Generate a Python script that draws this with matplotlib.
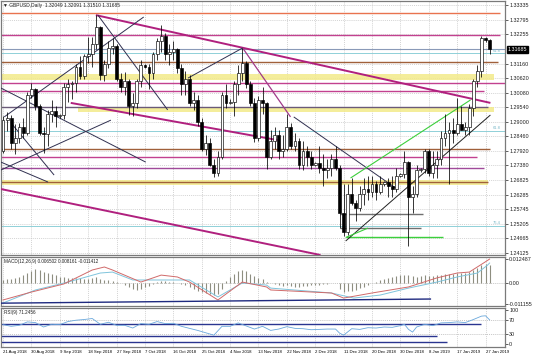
import matplotlib
matplotlib.use('Agg')
import matplotlib.pyplot as plt
import matplotlib.transforms as mtransforms

plt.rcParams['font.family'] = ['Liberation Sans', 'DejaVu Sans']

# ---- daily GBPUSD candles, one entry per bar ----
opens = [1.2790, 1.2905, 1.2915, 1.2820, 1.2840, 1.2880, 1.2860, 1.3000, 1.3020, 1.2960,
         1.2860, 1.2855, 1.2930, 1.2940, 1.2920, 1.2925, 1.3030, 1.3040, 1.3045, 1.3105,
         1.3070, 1.3145, 1.3150, 1.3190, 1.3250, 1.3075, 1.3115, 1.3175, 1.3180, 1.3060,
         1.3030, 1.3050, 1.2960, 1.2970, 1.3050, 1.3110, 1.3105, 1.3080, 1.3150, 1.3200,
         1.3220, 1.3150, 1.3160, 1.3170, 1.3100, 1.3040, 1.3060, 1.2970, 1.2980, 1.2900,
         1.2800, 1.2820, 1.2740, 1.2710, 1.2770, 1.3000, 1.2970, 1.2975, 1.3040, 1.3080,
         1.3120, 1.3040, 1.2970, 1.2840, 1.2980, 1.2970, 1.2770, 1.2830, 1.2850, 1.2790,
         1.2800, 1.2880, 1.2810, 1.2830, 1.2740, 1.2790, 1.2770, 1.2740, 1.2745, 1.2730,
         1.2720, 1.2730, 1.2760, 1.2730, 1.2560, 1.2490, 1.2630, 1.2600, 1.2580, 1.2630,
         1.2650, 1.2640, 1.2670, 1.2640, 1.2670, 1.2675, 1.2660, 1.2650, 1.2700, 1.2705,
         1.2750, 1.2620, 1.2630, 1.2720, 1.2725, 1.2790, 1.2710, 1.2740, 1.2760, 1.2840,
         1.2860, 1.2870, 1.2860, 1.2890, 1.2870, 1.2880, 1.2950, 1.3050, 1.3090, 1.3210,
         1.32049]
highs = [1.2920, 1.2935, 1.2925, 1.2890, 1.2895, 1.2915, 1.3010, 1.3045, 1.3025, 1.2965,
         1.2880, 1.2945, 1.2980, 1.2960, 1.2930, 1.3045, 1.3060, 1.3050, 1.3115, 1.3145,
         1.3150, 1.3215, 1.3215, 1.3298, 1.3255, 1.3130, 1.3200, 1.3210, 1.3190, 1.3080,
         1.3085, 1.3060, 1.3005, 1.3060, 1.3130, 1.3115, 1.3115, 1.3160, 1.3210, 1.3258,
         1.3230, 1.3190, 1.3200, 1.3175, 1.3115, 1.3090, 1.3075, 1.3010, 1.3000, 1.2915,
         1.2850, 1.2840, 1.2760, 1.2790, 1.3010, 1.3040, 1.2985, 1.3050, 1.3110, 1.3175,
         1.3125, 1.3050, 1.2990, 1.2995, 1.3030, 1.2975, 1.2870, 1.2880, 1.2870, 1.2850,
         1.2930, 1.2895, 1.2860, 1.2840, 1.2830, 1.2810, 1.2790, 1.2750, 1.2810, 1.2780,
         1.2760, 1.2780, 1.2810, 1.2740, 1.2670, 1.2670, 1.2690, 1.2610, 1.2660, 1.2690,
         1.2700, 1.2700, 1.2680, 1.2700, 1.2680, 1.2690, 1.2700, 1.2730, 1.2710, 1.2790,
         1.2755, 1.2660, 1.2740, 1.2730, 1.2800, 1.2800, 1.2790, 1.2790, 1.2865, 1.2930,
         1.2900, 1.2915, 1.2990, 1.2960, 1.2900, 1.2965, 1.3060, 1.3110, 1.3218, 1.3215,
         1.32091]
lows = [1.2785, 1.2865, 1.2800, 1.2780, 1.2820, 1.2840, 1.2850, 1.2990, 1.2945, 1.2850,
        1.2785, 1.2810, 1.2900, 1.2880, 1.2915, 1.2910, 1.2975, 1.2985, 1.3010, 1.3060,
        1.3060, 1.3120, 1.3105, 1.3170, 1.3055, 1.3050, 1.3100, 1.3150, 1.3050, 1.3010,
        1.3000, 1.2925, 1.2920, 1.2950, 1.3030, 1.3100, 1.3020, 1.3060, 1.3130, 1.3160,
        1.3130, 1.3110, 1.3130, 1.3080, 1.3000, 1.3000, 1.2960, 1.2945, 1.2885, 1.2790,
        1.2775, 1.2735, 1.2696, 1.2700, 1.2760, 1.2950, 1.2965, 1.2920, 1.3000, 1.3050,
        1.3025, 1.2960, 1.2825, 1.2830, 1.2930, 1.2725, 1.2760, 1.2800, 1.2760, 1.2770,
        1.2790, 1.2800, 1.2790, 1.2725, 1.2720, 1.2735, 1.2725, 1.2735, 1.2710, 1.2660,
        1.2690, 1.2700, 1.2720, 1.2505, 1.2477, 1.2480, 1.2590, 1.2530, 1.2570, 1.2590,
        1.2610, 1.2620, 1.2610, 1.2630, 1.2660, 1.2620, 1.2620, 1.2640, 1.2695, 1.2690,
        1.2440, 1.2560, 1.2620, 1.2715, 1.2710, 1.2700, 1.2690, 1.2690, 1.2740, 1.2810,
        1.2670, 1.2820, 1.2850, 1.2870, 1.2850, 1.2850, 1.2920, 1.3030, 1.3065, 1.3195,
        1.31510]
closes = [1.2905, 1.2915, 1.2820, 1.2840, 1.2880, 1.2860, 1.3000, 1.3020, 1.2960, 1.2860,
          1.2855, 1.2930, 1.2940, 1.2920, 1.2925, 1.3030, 1.3040, 1.3045, 1.3105, 1.3070,
          1.3145, 1.3150, 1.3190, 1.3250, 1.3075, 1.3115, 1.3175, 1.3180, 1.3060, 1.3030,
          1.3050, 1.2960, 1.2970, 1.3050, 1.3110, 1.3105, 1.3080, 1.3150, 1.3200, 1.3220,
          1.3150, 1.3160, 1.3170, 1.3100, 1.3040, 1.3060, 1.2970, 1.2980, 1.2900, 1.2800,
          1.2820, 1.2740, 1.2710, 1.2770, 1.3000, 1.2970, 1.2975, 1.3040, 1.3080, 1.3120,
          1.3040, 1.2970, 1.2840, 1.2980, 1.2970, 1.2770, 1.2830, 1.2850, 1.2790, 1.2800,
          1.2880, 1.2810, 1.2830, 1.2740, 1.2790, 1.2770, 1.2740, 1.2745, 1.2730, 1.2720,
          1.2730, 1.2760, 1.2730, 1.2560, 1.2490, 1.2630, 1.2600, 1.2580, 1.2630, 1.2650,
          1.2640, 1.2670, 1.2640, 1.2670, 1.2675, 1.2660, 1.2650, 1.2700, 1.2705, 1.2750,
          1.2620, 1.2630, 1.2720, 1.2725, 1.2790, 1.2710, 1.2740, 1.2760, 1.2840, 1.2860,
          1.2870, 1.2860, 1.2890, 1.2870, 1.2880, 1.2950, 1.3050, 1.3090, 1.3210, 1.3205,
          1.31685]

date_labels = ['21 Aug 2018', '30 Aug 2018', '9 Sep 2018', '18 Sep 2018', '27 Sep 2018',
               '7 Oct 2018', '16 Oct 2018', '25 Oct 2018', '4 Nov 2018', '13 Nov 2018',
               '22 Nov 2018', '2 Dec 2018', '11 Dec 2018', '20 Dec 2018', '30 Dec 2018',
               '8 Jan 2019', '17 Jan 2019', '27 Jan 2019']
price_ticks = [1.33335, 1.32795, 1.32255, 1.31160, 1.30620, 1.30080, 1.29540, 1.29000,
               1.28460, 1.27920, 1.27380, 1.26825, 1.26285, 1.25745, 1.25205, 1.24665, 1.24125]
last_price = 1.31685

# horizontal levels: (price, first bar, last bar, colour)
h_levels = [
    (1.3304, -1, 122.5, '#e9734f'),
    (1.3222, -1, 122.5, '#c2418f'),
    (1.3122, -1, 122.0, '#a0603a'),
    (1.3044, -1, 125.0, '#c2418f'),
    (1.3014, -1, 118.5, '#c2418f'),
    (1.2955, -1, 119.5, '#6a5a78'),
    (1.2799, -1, 120.0, '#a0603a'),
    (1.2769, -1, 117.0, '#c2418f'),
    (1.2728, -1, 118.5, '#a04a9a'),
    (1.2676, -1, 119.5, '#a0603a'),
    (1.2557, 83.0, 103.5, '#707070'),
    (1.2505, 83.0, 103.0, '#707070'),
    (1.24719, 84.5, 108.5, '#3ccf3c'),
]
fib_levels = [(1.3155, '61.8'), (1.2866, '61.8'), (1.2513, '76.4')]
# yellow zones: (low, high, first bar, last bar)
zones = [(1.3055, 1.3077, -1, 121.0), (1.2937, 1.2953, 18.5, 121.0), (1.2665, 1.2684, -1, 119.5)]

# trend lines: (bar0, price0, bar1, price1, colour, width)
trend_lines = [
    (22.9, 1.3296, 120.2, 1.2970, '#b0207e', 1.4),
    (16.7, 1.2970, 67.7, 1.2832, '#b0207e', 1.4),
    (-0.5, 1.2650, 78.3, 1.2405, '#b0207e', 1.4),
    (84.5, 1.2457, 120.2, 1.2925, '#202020', 0.7),
    (0.3, 1.2918, 34.7, 1.3289, '#303050', 0.7),
    (23.4, 1.3296, 40.6, 1.2944, '#303050', 0.7),
    (-0.5, 1.3025, 35.2, 1.2750, '#303050', 0.7),
    (2.0, 1.2895, 12.6, 1.2702, '#303050', 0.7),
    (-0.5, 1.2750, 11.1, 1.2676, '#303050', 0.7),
    (-0.5, 1.2721, 26.6, 1.2906, '#303050', 0.7),
    (45.6, 1.3062, 59.1, 1.3174, '#303050', 0.7),
    (59.1, 1.3174, 70.9, 1.2918, '#a03a8a', 0.9),
    (71.7, 1.2918, 96.8, 1.2654, '#303050', 0.7),
    (85.7, 1.2691, 115.3, 1.2981, '#3ccf3c', 0.8),
    (84.5, 1.2470, 90.0, 1.2505, '#3ccf3c', 0.8),
]

# MACD histogram (x 0.001), one per bar
macd_hist = [1.5, 2.0, 2.0, 2.5, 3.0, 4.0, 5.5, 6.5, 7.5, 7.0,
             6.0, 5.5, 5.0, 4.0, 3.0, 3.0, 2.5, 2.5, 2.5, 2.5,
             2.0, 2.0, 2.5, 3.0, 2.0, 1.5, 1.5, 1.0, 0.5, 0.0,
             -1.0, -2.0, -3.0, -3.5, -3.0, -2.0, -1.5, -0.5, 0.5, 1.0,
             1.0, 0.5, 0.5, 0.0, -0.5, -1.0, -2.0, -3.0, -4.0, -5.0,
             -5.5, -6.0, -6.5, -6.0, -3.0, 1.0, 3.0, 5.0, 6.5, 7.0,
             6.5, 5.0, 3.5, 2.5, 2.0, 0.5, 0.0, -0.5, -1.0, -1.5,
             -1.0, -1.5, -2.0, -2.0, -1.5, -1.5, -1.0, -1.0, -1.0, -0.5,
             -0.5, 0.0, 0.0, -3.0, -5.0, -4.5, -4.0, -3.5, -2.5, -2.0,
             -1.0, 0.0, 0.5, 1.5, 2.0, 2.5, 3.0, 3.5, 4.0, 4.5,
             4.0, 3.5, 3.0, 3.5, 4.0, 3.5, 3.5, 4.0, 4.5, 5.0,
             5.0, 5.0, 5.5, 5.5, 5.5, 6.0, 7.0, 8.0, 9.5, 10.0, 9.5]
red_idx = [0, 7, 15, 22, 25, 27, 34, 39, 43, 46, 53, 59, 65, 66, 81, 84, 91, 100, 107, 112, 115, 118.5, 120]
red_val = [-9.0, -4.8, -0.5, 6.9, 8.5, 6.9, 0.5, 4.2, 3.2, 0.5, -9.0, 0.5, -2.1, -3.7, -5.3, -8.0,
           -5.3, -2.1, 2.7, 5.3, 5.8, 10.6, 12.7]
blue_idx = [0, 8, 16, 24, 27, 32, 39, 46, 53, 59, 65, 66, 81, 86.5, 93, 100, 107, 112, 117, 119.5, 120]
blue_val = [-10.6, -3.7, 0.5, 5.3, 5.8, 1.6, 1.6, 1.6, -7.4, 0.0, -1.1, -2.7, -5.3, -8.0, -6.4,
            -2.7, 0.5, 3.2, 5.3, 9.5, 10.6]
macd_trend = (-0.5, -10.7, 105.4, -8.5)

rsi_idx = [0, 2, 4, 6, 8, 10, 12, 14, 16, 18, 20, 22, 24, 26, 28, 30, 32, 34, 36, 38, 40, 42, 44,
           46, 48, 50, 52, 54, 56, 58, 60, 62, 64, 66, 68, 70, 72, 74, 76, 78, 80, 82, 83, 84, 86,
           88, 90, 92, 94, 96, 98, 99, 100, 101, 102, 104, 106, 108, 110, 112, 114, 116, 118, 119, 120]
rsi_val = [57, 52, 55, 65, 63, 50, 58, 57, 66, 70, 72, 75, 58, 64, 55, 55, 47, 60, 58, 66, 60, 61, 52,
           46, 40, 33, 26, 52, 52, 62, 53, 44, 52, 40, 44, 51, 46, 45, 42, 43, 44, 44, 32, 26, 45,
           43, 48, 47, 50, 49, 54, 58, 43, 35, 50, 58, 54, 62, 63, 65, 63, 72, 82, 83, 71]
rsi_levels = [(59, 118.0), (24, 107.0), (6, 109.5)]

W, H = 536, 358
fig = plt.figure(figsize=(W / 100, H / 100), dpi=100)
fig.patch.set_facecolor('white')


def px_axes(x0, y0, x1, y1):
    return fig.add_axes([x0 / W, 1 - y1 / H, (x1 - x0) / W, (y1 - y0) / H])


ax = px_axes(1, 1, 505, 255)
ax_m = px_axes(1, 257, 505, 306)
ax_r = px_axes(1, 308, 505, 347)

n = len(closes)
xmin, xmax = -0.5, 123.8
label_pos = [7 * k for k in range(len(date_labels))]
grid_kw = dict(color='#c4c4c4', lw=0.5, ls=(0, (1.5, 1.5)))
fs = 3.9

for a in (ax, ax_m, ax_r):
    a.set_xlim(xmin, xmax)
    a.set_xticks(label_pos)
    for s in a.spines.values():
        s.set_color('#7a7a7a')
        s.set_linewidth(0.9)
    a.yaxis.tick_right()
    a.tick_params(axis='y', labelsize=fs, length=2, width=0.5, pad=1, colors='#202020')
    a.tick_params(axis='x', length=0)
    for p in label_pos:
        a.axvline(p, zorder=0, **grid_kw)

# ---- main price panel ----
ax.set_ylim(1.24051, 1.33484)
ax.set_yticks(price_ticks)
ax.set_yticklabels([f'{p:.5f}' for p in price_ticks])
ax.set_xticklabels([])
for p in price_ticks:
    ax.axhline(p, zorder=0, **grid_kw)

for lo, hi, i0, i1 in zones:
    ax.fill_between([i0, i1], [lo, lo], [hi, hi], color='#f3ea8a', alpha=0.85, lw=0, zorder=1)
for p, i0, i1, c in h_levels:
    ax.hlines(p, i0, i1, color=c, lw=1.0, zorder=2)
for p, lab in fib_levels:
    ax.hlines(p, xmin, xmax, color='#8fd0d8', lw=0.7, zorder=2)
    ax.text(121.8, p + 0.0002, lab, color='#7ab8c8', fontsize=3.0, va='bottom', ha='center')
for i0, p0, i1, p1, c, w in trend_lines:
    ax.plot([i0, i1], [p0, p1], color=c, lw=w, zorder=3, solid_capstyle='butt')

# bid line
ax.axhline(last_price, color='#8a9ab8', lw=0.8, zorder=2)

for i in range(n):
    o, h, l, c = opens[i], highs[i], lows[i], closes[i]
    ax.vlines(i, l, h, color='black', lw=0.55, zorder=4)
    bot, top = min(o, c), max(o, c)
    if top - bot < 0.00008:
        ax.hlines(o, i - 0.35, i + 0.35, color='black', lw=0.6, zorder=5)
        continue
    fc = 'white' if c >= o else 'black'
    ax.bar(i, top - bot, bottom=bot, width=0.7, facecolor=fc, edgecolor='black',
           linewidth=0.45, zorder=5)

trans = mtransforms.blended_transform_factory(ax.transAxes, ax.transData)
ax.text(1.006, last_price, f'{last_price:.5f}', transform=trans, fontsize=fs, color='white',
        va='center', ha='left', bbox=dict(boxstyle='square,pad=0.15', fc='black', ec='black'),
        zorder=10, clip_on=False)
ax.text(0.004, 0.993, '\u25bc GBPUSD,Daily  1.32049 1.32091 1.31510 1.31685', transform=ax.transAxes,
        fontsize=3.5, va='top', ha='left', color='#202020')

# ---- MACD panel ----
ax_m.set_ylim(-12.2, 13.8)
ax_m.set_yticks([12.487, 0.0, -11.155])
ax_m.set_yticklabels(['0.012487', '0.00', '-0.011155'])
ax_m.set_xticklabels([])
ax_m.axhline(0, color='#b0b0b0', lw=0.5, ls=(0, (1.5, 1.5)), zorder=0)
ax_m.vlines(range(n), 0, macd_hist, color='#8e8e80', lw=0.8, zorder=2)
ax_m.plot(blue_idx, blue_val, color='#7fc4dc', lw=0.7, zorder=3)
ax_m.plot(red_idx, red_val, color='#d06a6a', lw=0.7, zorder=3)
ax_m.plot([macd_trend[0], macd_trend[2]], [macd_trend[1], macd_trend[3]], color='#1f2a80', lw=1.0, zorder=3)
ax_m.text(0.006, 0.95, 'MACD(12,26,9) 0.006502 0.008161 -0.011412', transform=ax_m.transAxes,
          fontsize=3.3, va='top', ha='left', color='#202020')

# ---- RSI panel ----
ax_r.set_ylim(-8.8, 105.9)
ax_r.set_yticks([100, 70, 30, 0])
ax_r.set_yticklabels(['100', '70', '30', '0'])
for v in (70, 30):
    ax_r.axhline(v, color='#b0b0b0', lw=0.5, ls=(0, (1.5, 1.5)), zorder=0)
for v, i1 in rsi_levels:
    ax_r.hlines(v, xmin, i1, color='#2a3590', lw=1.0, zorder=2)
ax_r.plot(rsi_idx, rsi_val, color='#6aa8dc', lw=0.6, zorder=3)
ax_r.text(0.006, 0.95, 'RSI(9) 71.2456', transform=ax_r.transAxes, fontsize=3.3,
          va='top', ha='left', color='#202020')
ax_r.set_xticklabels(date_labels, fontsize=3.1, ha='left')
ax_r.tick_params(axis='x', pad=2)

fig.savefig('out.png', dpi=100)
